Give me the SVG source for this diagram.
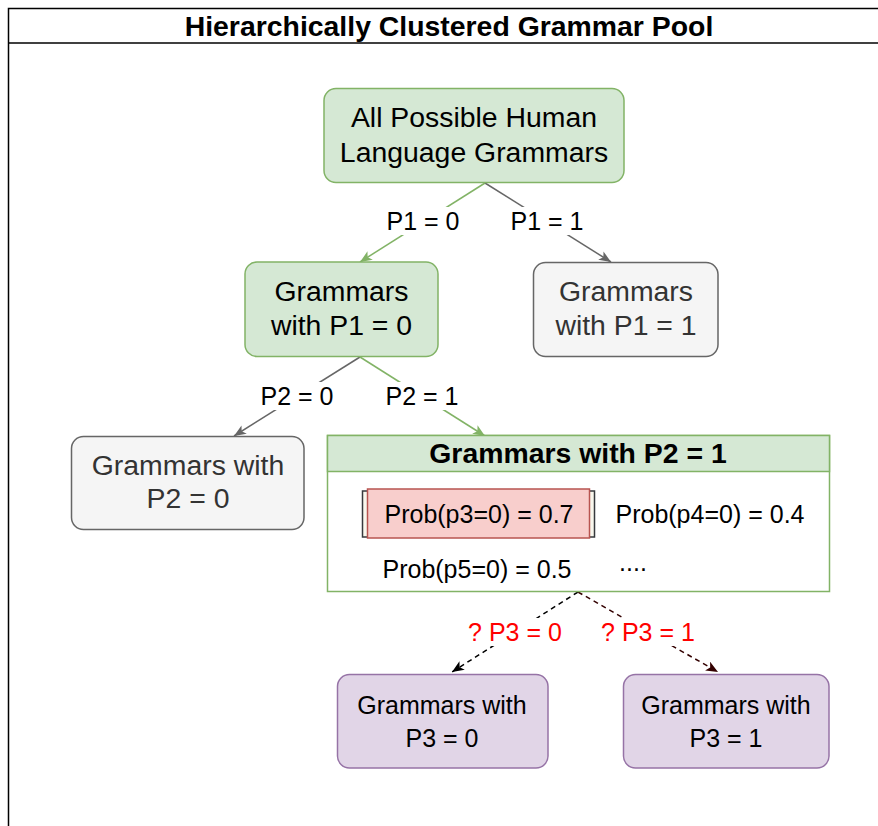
<svg xmlns="http://www.w3.org/2000/svg" width="878" height="826" viewBox="0 0 878 826">
  <defs>
    <style>
      text { font-family: "Liberation Sans", Arial, sans-serif; text-anchor: middle; }
      .big { font-size: 28.4px; }
      .mid { font-size: 25px; }
      .bold { font-weight: bold; }
      .green { fill: #d5e8d4; stroke: #82b366; stroke-width: 1.5; }
      .gray { fill: #f5f5f5; stroke: #666666; stroke-width: 1.5; }
      .purple { fill: #e1d5e7; stroke: #9673a6; stroke-width: 1.5; }
      .gtext { fill: #333333; }
      .edge { fill: none; stroke-width: 1.5; }
      .lbl { fill: #ffffff; }
      .red { fill: #ff0000; }
    </style>
    <marker id="arrGreen" viewBox="0 0 12 10" refX="12" refY="5" markerWidth="12" markerHeight="10" markerUnits="userSpaceOnUse" orient="auto">
      <path d="M0,0 L12,5 L0,10 L3,5 Z" fill="#82b366"/>
    </marker>
    <marker id="arrGray" viewBox="0 0 12 10" refX="12" refY="5" markerWidth="12" markerHeight="10" markerUnits="userSpaceOnUse" orient="auto">
      <path d="M0,0 L12,5 L0,10 L3,5 Z" fill="#666666"/>
    </marker>
    <marker id="arrBlack" viewBox="0 0 12 10" refX="12" refY="5" markerWidth="12" markerHeight="10" markerUnits="userSpaceOnUse" orient="auto">
      <path d="M0,0 L12,5 L0,10 L3,5 Z" fill="#000000"/>
    </marker>
    <marker id="arrDark" viewBox="0 0 12 10" refX="12" refY="5" markerWidth="12" markerHeight="10" markerUnits="userSpaceOnUse" orient="auto">
      <path d="M0,0 L12,5 L0,10 L3,5 Z" fill="#330000"/>
    </marker>
  </defs>

  <rect width="878" height="826" fill="#ffffff"/>

  <!-- pool container -->
  <g id="pool">
    <rect x="8.5" y="8.5" width="880" height="830" fill="none" stroke="#000000" stroke-width="1.5"/>
    <line x1="8.5" y1="43" x2="878" y2="43" stroke="#000000" stroke-width="1.5"/>
    <text x="449" y="36" class="big bold">Hierarchically Clustered Grammar Pool</text>
  </g>

  <!-- connectors -->
  <g id="connectors">
    <line x1="485" y1="183" x2="360" y2="262" class="edge" stroke="#82b366" marker-end="url(#arrGreen)"/>
    <line x1="485" y1="183" x2="611" y2="262" class="edge" stroke="#666666" marker-end="url(#arrGray)"/>
    <line x1="360" y1="357" x2="234" y2="436" class="edge" stroke="#666666" marker-end="url(#arrGray)"/>
    <line x1="360" y1="357" x2="485" y2="436" class="edge" stroke="#82b366" marker-end="url(#arrGreen)"/>
    <line x1="578" y1="592" x2="452" y2="672" class="edge" stroke="#000000" stroke-dasharray="5 4" marker-end="url(#arrBlack)"/>
    <line x1="578" y1="592" x2="718" y2="672" class="edge" stroke="#330000" stroke-dasharray="5 4" marker-end="url(#arrDark)"/>

    <rect x="385" y="207" width="77" height="28" class="lbl"/>
    <text x="423" y="230" class="mid">P1 = 0</text>
    <rect x="509" y="207" width="77" height="28" class="lbl"/>
    <text x="547" y="230" class="mid">P1 = 1</text>
    <rect x="259" y="382" width="77" height="28" class="lbl"/>
    <text x="297" y="405" class="mid">P2 = 0</text>
    <rect x="384" y="382" width="77" height="28" class="lbl"/>
    <text x="422" y="405" class="mid">P2 = 1</text>
    <rect x="466" y="618" width="98" height="28" class="lbl"/>
    <text x="515" y="641" class="mid red">? P3 = 0</text>
    <rect x="599" y="618" width="98" height="28" class="lbl"/>
    <text x="648" y="641" class="mid red">? P3 = 1</text>
  </g>

  <g id="root">
    <rect x="324" y="88.5" width="300" height="94" rx="12" class="green"/>
    <text x="474" y="127" class="big">All Possible Human</text>
    <text x="474" y="162" class="big">Language Grammars</text>
  </g>

  <g id="p1-zero">
    <rect x="245" y="262" width="193" height="94.5" rx="12" class="green"/>
    <text x="341.5" y="301" class="big">Grammars</text>
    <text x="341.5" y="335" class="big">with P1 = 0</text>
  </g>

  <g id="p1-one">
    <rect x="533.5" y="262.5" width="184.5" height="94" rx="12" class="gray"/>
    <text x="626" y="301" class="big gtext">Grammars</text>
    <text x="626" y="335" class="big gtext">with P1 = 1</text>
  </g>

  <g id="p2-zero">
    <rect x="71.5" y="436.5" width="232.5" height="93" rx="12" class="gray"/>
    <text x="188" y="475" class="big gtext">Grammars with</text>
    <text x="188" y="508" class="big gtext">P2 = 0</text>
  </g>

  <g id="p2-one">
    <rect x="327.5" y="435.5" width="502" height="156" fill="#ffffff" stroke="#82b366" stroke-width="1.5"/>
    <rect x="327.5" y="435.5" width="502" height="36" class="green"/>
    <text x="578" y="463" class="big bold">Grammars with P2 = 1</text>
    <g id="prob-p3">
      <rect x="362.5" y="491" width="232" height="46" fill="#f9f7ed" stroke="#36393d" stroke-width="1.5"/>
      <rect x="367.5" y="489" width="222" height="49" fill="#f8cecc" stroke="#b85450" stroke-width="1.5"/>
      <text x="479" y="523" class="mid">Prob(p3=0) = 0.7</text>
    </g>
    <text x="710" y="523" class="mid">Prob(p4=0) = 0.4</text>
    <text x="477" y="578" class="mid">Prob(p5=0) = 0.5</text>
    <text x="633" y="571" class="mid">....</text>
  </g>

  <g id="p3-zero">
    <rect x="337.5" y="674.5" width="210.5" height="93.5" rx="12" class="purple"/>
    <text x="442" y="714" class="mid">Grammars with</text>
    <text x="442" y="747" class="mid">P3 = 0</text>
  </g>

  <g id="p3-one">
    <rect x="623.5" y="674.5" width="205.5" height="93.5" rx="12" class="purple"/>
    <text x="726" y="714" class="mid">Grammars with</text>
    <text x="726" y="747" class="mid">P3 = 1</text>
  </g>
</svg>
